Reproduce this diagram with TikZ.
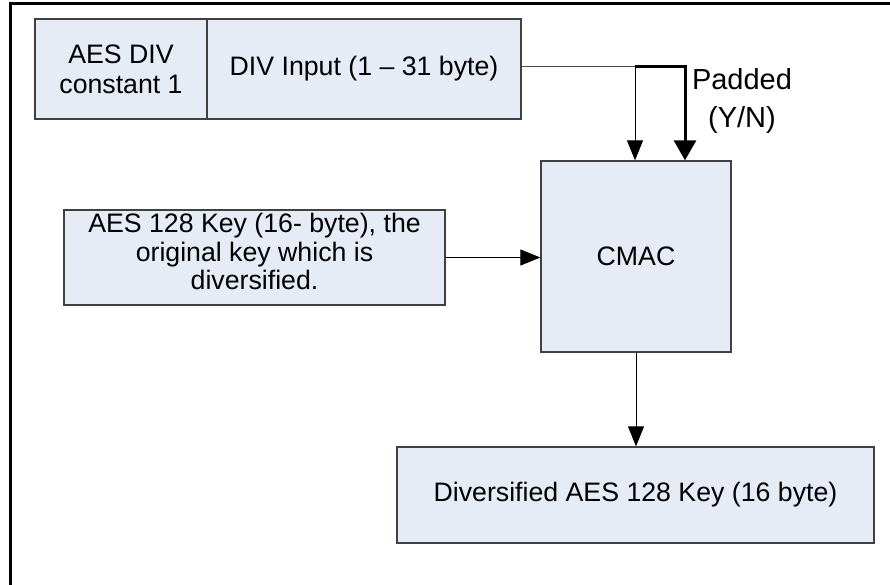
\documentclass[tikz,border=0pt]{standalone}
\usepackage{fontspec}
\setmainfont{Liberation Sans}
\usetikzlibrary{arrows.meta}
\definecolor{boxfill}{HTML}{E5ECF6}
\definecolor{boxline}{HTML}{404040}
\tikzset{
  blk/.style={draw=boxline, line width=1.3pt, fill=boxfill, align=center, inner sep=0pt,
    font=\fontsize{26.7}{30}\selectfont},
  thinline/.style={draw=black!70, line width=1pt},
  thinarrow/.style={draw=black, line width=1pt, -{Triangle[width=16pt,length=20pt]}},
  boldarrow/.style={draw=black, line width=3pt, -{Triangle[width=22pt,length=20pt]}},
  lbl/.style={align=center, inner sep=0pt, font=\fontsize{29}{38}\selectfont},
}
\begin{document}
\begin{tikzpicture}[x=1pt,y=-1pt]
\useasboundingbox (0,0) rectangle (890,585);
\draw[line width=2.5pt] (10.5,585) -- (10.5,3.5) -- (890,3.5);
\node[blk, minimum width=172, minimum height=100] (aes) at (121,69) {AES DIV\\constant 1};
\node[blk, minimum width=314, minimum height=100] (div) at (364,69) {DIV Input (1 -- 31 byte)};
\node[blk, minimum width=190, minimum height=191] (cmac) at (636,256.5) {CMAC};
\node[blk, minimum width=381, minimum height=95, font=\fontsize{26.7}{28.5}\selectfont] (key) at (254.5,257.5) {AES 128 Key (16- byte), the\\original key which is\\diversified.\rule[-12pt]{0pt}{0pt}};
\node[blk, minimum width=477, minimum height=96] (out) at (635.5,495) {Diversified AES 128 Key (16 byte)};
\node[lbl] (pad) at (742,101) {Padded\\(Y/N)};
\coordinate (j1) at (635,67);
\coordinate (j2) at (685,67);
\draw[thinline] (div.east |- j1) -- (j1);
\draw[thinarrow] (j1) -- (j1 |- cmac.north);
\draw[boldarrow] (j1) -- (j2) -- (j2 |- cmac.north);
\draw[thinarrow] (key.east) -- (key.east -| cmac.west);
\draw[thinarrow] (cmac.south) -- (cmac.south |- out.north);
\end{tikzpicture}
\end{document}
